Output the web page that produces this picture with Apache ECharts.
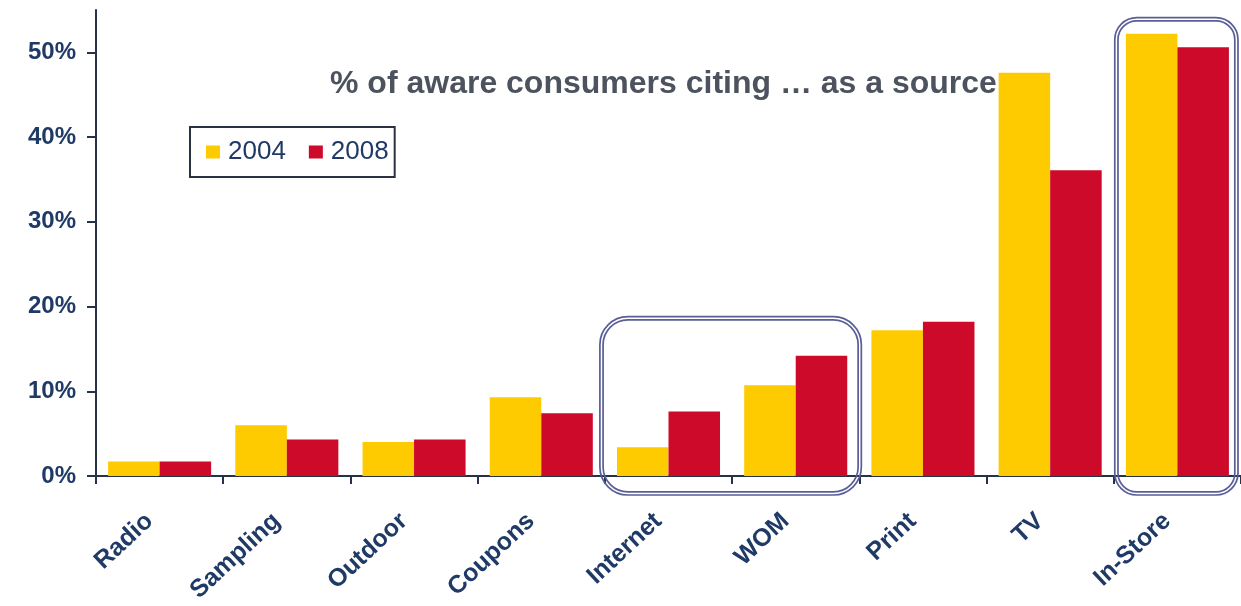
<!DOCTYPE html>
<html>
<head>
<meta charset="utf-8">
<script src="https://cdn.jsdelivr.net/npm/echarts@6/dist/echarts.min.js"></script>
<style>
  html, body { margin: 0; padding: 0; background: #ffffff; }
  #chart { width: 1241px; height: 606px; }
</style>
</head>
<body>
<div id="chart"></div>
<script>
const categories = ['Radio', 'Sampling', 'Outdoor', 'Coupons', 'Internet', 'WOM', 'Print', 'TV', 'In-Store'];
const values2004 = [1.7, 6.0, 4.0, 9.3, 3.4, 10.7, 17.2, 47.6, 52.2];
const values2008 = [1.7, 4.3, 4.3, 7.4, 7.6, 14.2, 18.2, 36.1, 50.6];
const yTickValues = [0, 10, 20, 30, 40, 50];
const seriesNames = ['2004', '2008'];
const titleText = '% of aware consumers citing \u2026 as a source';

const NAVY = '#1f3a66';
const AXIS = '#26324a';
const BOX = '#5a5e96';

const chart = echarts.init(document.getElementById('chart'), null, { renderer: 'canvas' });

const option = {
  backgroundColor: '#ffffff',
  animation: false,
  title: {
    text: titleText,
    left: 330,
    top: 68,
    padding: 0,
    textStyle: {
      fontFamily: "'Liberation Sans', Arial, sans-serif",
      fontSize: 32,
      fontWeight: 'bold',
      color: '#4d535e'
    }
  },
  legend: {
    data: seriesNames,
    left: 190,
    top: 127,
    orient: 'horizontal',
    icon: 'rect',
    itemWidth: 14,
    itemHeight: 13,
    itemGap: 23,
    padding: [12, 6, 12, 16],
    borderColor: '#2b3142',
    borderWidth: 2,
    borderRadius: 0,
    textStyle: {
      fontFamily: "'Liberation Sans', Arial, sans-serif",
      fontSize: 26,
      color: NAVY,
      padding: [0, 0, 0, 3]
    }
  },
  grid: {
    left: 96,
    right: -5,
    top: 10,
    bottom: 130,
    containLabel: false
  },
  xAxis: {
    type: 'category',
    data: categories,
    axisLine: { show: true, lineStyle: { color: AXIS, width: 2 } },
    axisTick: { show: true, alignWithLabel: false, length: 8, lineStyle: { color: AXIS, width: 2 } },
    axisLabel: {
      interval: 0,
      rotate: 43,
      margin: 32,
      padding: [0, 14, 0, 0],
      fontFamily: "'Liberation Sans', Arial, sans-serif",
      fontSize: 25,
      fontWeight: 'bold',
      color: NAVY
    },
    splitLine: { show: false }
  },
  yAxis: {
    type: 'value',
    min: 0,
    max: 55,
    interval: 10,
    axisLine: { show: true, lineStyle: { color: AXIS, width: 2 } },
    axisTick: { show: true, length: 9, customValues: yTickValues, lineStyle: { color: AXIS, width: 2 } },
    axisLabel: {
      customValues: yTickValues,
      margin: 20,
      formatter: '{value}%',
      fontFamily: "'Liberation Sans', Arial, sans-serif",
      fontSize: 24,
      fontWeight: 'bold',
      color: NAVY
    },
    splitLine: { show: false }
  },
  series: [
    {
      name: seriesNames[0],
      type: 'bar',
      data: values2004,
      barGap: '0%',
      barCategoryGap: '19%',
      itemStyle: { color: '#fecb00' }
    },
    {
      name: seriesNames[1],
      type: 'bar',
      data: values2008,
      barGap: '0%',
      barCategoryGap: '19%',
      itemStyle: { color: '#cd0a29' }
    }
  ]
};

chart.setOption(option);

// Annotation boxes (double-line rounded rectangles) positioned from the axes
function doubleRect(x0, y0, x1, y1, r) {
  const gap = 3.2;
  return [
    {
      type: 'rect',
      shape: { x: x0, y: y0, width: x1 - x0, height: y1 - y0, r: r },
      style: { fill: null, stroke: BOX, lineWidth: 1.7 },
      z: 100
    },
    {
      type: 'rect',
      shape: { x: x0 + gap, y: y0 + gap, width: x1 - x0 - 2 * gap, height: y1 - y0 - 2 * gap, r: r - gap },
      style: { fill: null, stroke: BOX, lineWidth: 1.7 },
      z: 100
    }
  ];
}

const xAxisModel = chart.getModel().getComponent('xAxis', 0);
const band = xAxisModel.axis.getBandWidth();
const cInternet = chart.convertToPixel({ xAxisIndex: 0 }, 'Internet');
const cWOM = chart.convertToPixel({ xAxisIndex: 0 }, 'WOM');
const cStore = chart.convertToPixel({ xAxisIndex: 0 }, 'In-Store');
const y0 = chart.convertToPixel({ yAxisIndex: 0 }, 0);
const yBox1 = chart.convertToPixel({ yAxisIndex: 0 }, 18.8);
const yBox2 = chart.convertToPixel({ yAxisIndex: 0 }, 54.1);

const boxes = []
  .concat(doubleRect(cInternet - band / 2 - 5, yBox1, cWOM + band / 2 + 2, y0 + 19, 28))
  .concat(doubleRect(cStore - band / 2 + 1, yBox2, 1238, y0 + 19, 22));

chart.setOption({ graphic: { elements: boxes } });
</script>
</body>
</html>
